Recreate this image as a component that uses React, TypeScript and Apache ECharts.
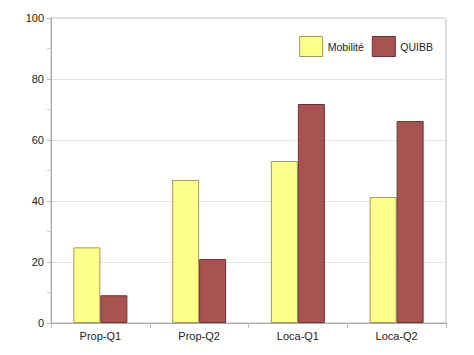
import React, { useEffect, useRef } from "react";
import * as echarts from "echarts";

const categories = ["Prop-Q1", "Prop-Q2", "Loca-Q1", "Loca-Q2"];
const mobilite = [24.8, 46.9, 53.1, 41.3];
const quibb = [9.1, 21.0, 71.8, 66.2];
const seriesNames = ["Mobilité", "QUIBB"];

export default function App() {
  const ref = useRef<HTMLDivElement>(null);
  useEffect(() => {
    const chart = echarts.init(ref.current!, null, { renderer: "svg" });
    const font = "'Liberation Sans', Arial, Helvetica, sans-serif";
    chart.setOption({
      animation: false,
      backgroundColor: "#ffffff",
      textStyle: { fontFamily: font },
      grid: {
        left: 51,
        right: 28,
        top: 18,
        bottom: 32,
        show: true,
        borderColor: "#bdbdbd",
        borderWidth: 1,
        backgroundColor: "transparent",
      },
      legend: {
        right: 36,
        top: 31,
        icon: "rect",
        itemWidth: 23,
        itemHeight: 20,
        itemGap: 8,
        itemStyle: { borderWidth: 1 },
        textStyle: { fontSize: 10.5, color: "#222", fontFamily: font },
        data: seriesNames,
      },
      xAxis: {
        type: "category",
        data: categories,
        axisLine: { lineStyle: { color: "#aaaaaa" } },
        axisTick: { show: true, alignWithLabel: false, length: 5, lineStyle: { color: "#bbbbbb" } },
        axisLabel: { fontSize: 11, color: "#222", margin: 7, fontFamily: font },
        splitLine: { show: false },
      },
      yAxis: {
        type: "value",
        min: 0,
        max: 100,
        interval: 20,
        axisLine: { show: true, lineStyle: { color: "#aaaaaa" } },
        axisTick: { show: true, length: 4, lineStyle: { color: "#bbbbbb" } },
        minorTick: { show: true, splitNumber: 2, length: 4, lineStyle: { color: "#cccccc" } },
        axisLabel: { fontSize: 11, color: "#222", margin: 7, fontFamily: font },
        splitLine: { show: true, lineStyle: { color: "#e2e2e2" } },
      },
      series: [
        {
          name: seriesNames[0],
          type: "bar",
          data: mobilite,
          barWidth: 27,
          barGap: "0%",
          itemStyle: { color: "#FFFF8C", borderColor: "#9c9c5a", borderWidth: 1 },
        },
        {
          name: seriesNames[1],
          type: "bar",
          data: quibb,
          barWidth: 27,
          barGap: "0%",
          itemStyle: { color: "#A85252", borderColor: "#6b3434", borderWidth: 1 },
        },
      ],
    });
    return () => chart.dispose();
  }, []);
  return <div ref={ref} style={{ width: 474, height: 355, position: "absolute", left: 0, top: 0 }} />;
}
